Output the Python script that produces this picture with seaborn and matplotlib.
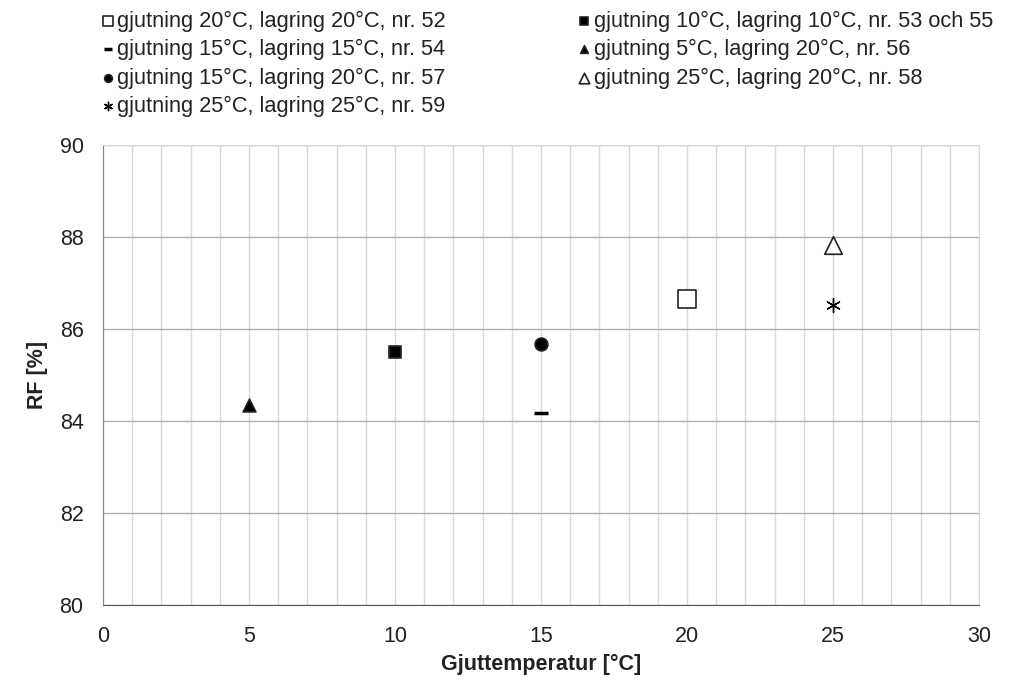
import matplotlib.pyplot as plt
from matplotlib.ticker import MultipleLocator
import seaborn as sns

# Data
labels = [
    "gjutning 20°C, lagring 20°C, nr. 52",
    "gjutning 15°C, lagring 15°C, nr. 54",
    "gjutning 15°C, lagring 20°C, nr. 57",
    "gjutning 25°C, lagring 25°C, nr. 59",
    "gjutning 10°C, lagring 10°C, nr. 53 och 55",
    "gjutning 5°C, lagring 20°C, nr. 56",
    "gjutning 25°C, lagring 20°C, nr. 58",
]
gjut_temp = [20, 15, 15, 25, 10, 5, 25]
rf = [86.65, 84.17, 85.67, 86.52, 85.5, 84.35, 87.83]

# marker, face colour, size
styles = [
    ("s", "white", 150),
    ("_", "black", 110),
    ("o", "black", 85),
    ((6, 2, 0), "black", 100),
    ("s", "black", 85),
    ("^", "black", 85),
    ("^", "white", 160),
]

sns.set_style("white")
plt.rcParams["font.family"] = ["Liberation Sans", "DejaVu Sans"]

fig = plt.figure(figsize=(10.14, 6.82), dpi=100)
ax = fig.add_axes([0.1016, 0.1129, 0.8639, 0.6745])

for lab, x, y, (m, fc, s) in zip(labels, gjut_temp, rf, styles):
    lw = 2.5 if m == "_" else (1.0 if m == (6, 2, 0) else 1.2)
    sns.scatterplot(x=[x], y=[y], marker=m, s=s, color=fc, edgecolor="#222222",
                    linewidth=lw, ax=ax, label=lab, zorder=3)
    if m == "_":
        ax.collections[-1].set_edgecolor("black")

ax.set_xlim(0, 30)
ax.set_ylim(80, 90)
ax.xaxis.set_major_locator(MultipleLocator(5))
ax.xaxis.set_minor_locator(MultipleLocator(1))
ax.yaxis.set_major_locator(MultipleLocator(2))
ax.grid(True, which="minor", axis="x", color="#d9d9d9", linewidth=1)
ax.grid(True, which="major", axis="x", color="#d9d9d9", linewidth=1)
ax.grid(True, which="major", axis="y", color="#b0b0b0", linewidth=1)
ax.set_axisbelow(True)

for side in ["top", "right"]:
    ax.spines[side].set_color("#d9d9d9")
ax.spines["left"].set_color("#888888")
ax.spines["bottom"].set_color("#555555")

ax.tick_params(axis="both", which="major", labelsize=15.5, length=6, direction="out",
               color="#555555", labelcolor="#222222")
ax.tick_params(axis="y", pad=8)
ax.tick_params(axis="x", pad=9)
ax.tick_params(axis="x", which="minor", length=0)

ax.set_xlabel("Gjuttemperatur [°C]", fontsize=15.5, fontweight="bold", labelpad=5, color="#222222")
ax.set_ylabel("RF [%]", fontsize=15.5, fontweight="bold", labelpad=8, color="#222222")

handles, leg_labels = ax.get_legend_handles_labels()
ax.get_legend().remove()
fig.legend(handles, leg_labels, ncol=2, loc="upper left", bbox_to_anchor=(0.077, 1.013),
           frameon=False, fontsize=15.7, markerscale=0.6, handletextpad=0.0,
           handlelength=0.9, columnspacing=5.9, labelspacing=0.33, labelcolor="#222222")

fig.savefig("out.png", dpi=100)
